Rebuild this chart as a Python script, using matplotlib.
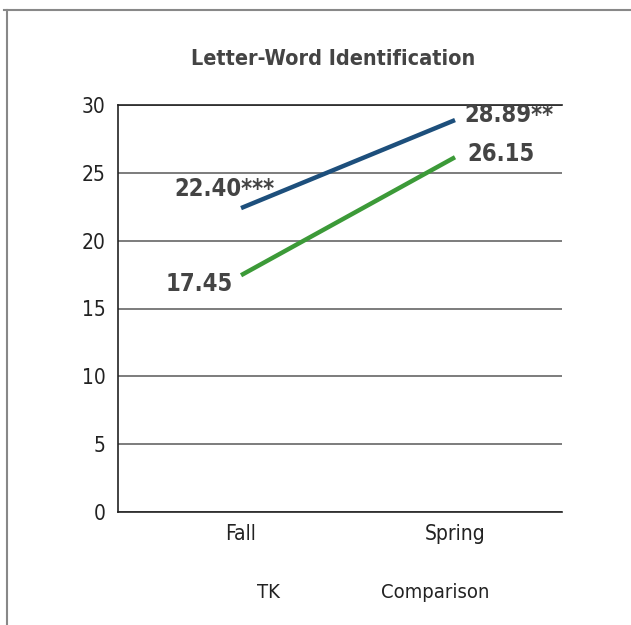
import matplotlib
matplotlib.use("Agg")
import matplotlib.pyplot as plt
from matplotlib.lines import Line2D

plt.rcParams['font.family'] = ['Liberation Sans Narrow', 'DejaVu Sans']
plt.rcParams['font.stretch'] = 'condensed'

# Data
seasons = ["Fall", "Spring"]
series_names = ["TK", "Comparison"]
tk_values = [22.40, 28.89]
comparison_values = [17.45, 26.15]
tk_labels = ["22.40***", "28.89**"]
comparison_labels = ["17.45", "26.15"]
y_ticks = [0, 5, 10, 15, 20, 25, 30]
title = "Letter-Word Identification"

W, H = 631, 625
fig = plt.figure(figsize=(W / 100, H / 100), dpi=100)
ax = fig.add_axes([118 / W, 1 - 512 / H, (562 - 118) / W, (512 - 105) / H])

x = list(range(len(seasons)))
blue = "#1d4f7c"
green = "#3c9a38"
l_tk, = ax.plot(x, tk_values, color=blue, lw=3.2, solid_capstyle='butt', label=series_names[0], zorder=3)
l_cmp, = ax.plot(x, comparison_values, color=green, lw=3.2, solid_capstyle='butt', label=series_names[1], zorder=3)

lab_kw = dict(textcoords='offset points', fontsize=17, fontweight='bold', color='#444444', va='center')
ax.annotate(tk_labels[0], (x[0], tk_values[0]), xytext=(-12, 14), ha='center', **lab_kw)
ax.annotate(tk_labels[1], (x[1], tk_values[1]), xytext=(7, 4), ha='left', **lab_kw)
ax.annotate(comparison_labels[0], (x[0], comparison_values[0]), xytext=(-6, -6), ha='right', **lab_kw)
ax.annotate(comparison_labels[1], (x[1], comparison_values[1]), xytext=(9, 2), ha='left', **lab_kw)

ax.set_xlim(-0.575, 1.5)
ax.set_ylim(0, 30)
ax.set_yticks(y_ticks)
ax.set_xticks(x)
ax.set_xticklabels(seasons)
ax.tick_params(axis='both', length=0, labelsize=15, labelcolor='#222222')
ax.tick_params(axis='y', pad=9)
ax.tick_params(axis='x', pad=9)
ax.yaxis.grid(True, color='#666666', lw=1.2)
ax.set_axisbelow(True)
for s in ['left', 'bottom', 'top']:
    ax.spines[s].set_color('#222222')
    ax.spines[s].set_linewidth(1.2)
ax.spines['right'].set_visible(False)

fig.text(333 / W, 1 - 59 / H, title, ha='center', va='center', fontsize=15.5,
         fontweight='bold', color='#444444')

fig.legend(handles=[l_tk, l_cmp], labels=series_names, loc='center', ncol=2,
           bbox_to_anchor=(373 / W, 1 - 593 / H), frameon=False, handlelength=0,
           handletextpad=0, columnspacing=5.0, fontsize=14.5, labelcolor='#222222')

# border lines
fig.add_artist(Line2D([4 / W, 1], [1 - 10 / H, 1 - 10 / H], transform=fig.transFigure, color='#888888', lw=1.5))
fig.add_artist(Line2D([7 / W, 7 / W], [1 - 10 / H, 0], transform=fig.transFigure, color='#888888', lw=1.5))

fig.savefig("out.png", dpi=100)
